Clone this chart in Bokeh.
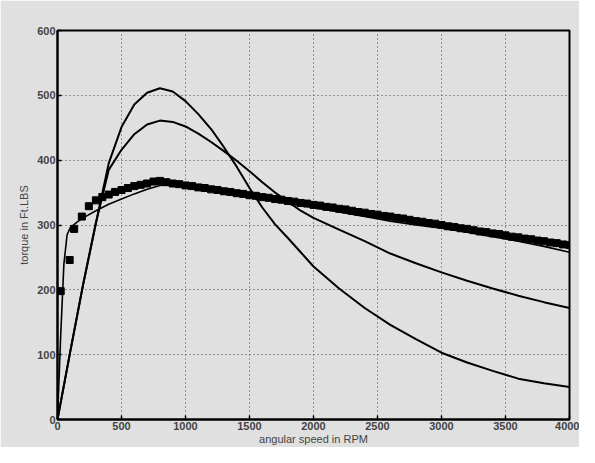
from bokeh.plotting import figure
from bokeh.models import FixedTicker
from bokeh.embed import file_html
from bokeh.resources import INLINE

# measured data (markers)
rpm_data = [25, 95, 130, 190, 245, 300, 350, 400, 450, 500, 550, 600, 650, 700, 750, 800, 850, 900, 950,
            1000, 1050, 1100, 1150, 1200, 1250, 1300, 1350, 1400, 1450, 1500, 1550, 1600, 1650, 1700,
            1750, 1800, 1850, 1900, 1950, 2000, 2050, 2100, 2150, 2200, 2250, 2300, 2350, 2400, 2450,
            2500, 2550, 2600, 2650, 2700, 2750, 2800, 2850, 2900, 2950, 3000, 3050, 3100, 3150, 3200,
            3250, 3300, 3350, 3400, 3450, 3500, 3550, 3600, 3650, 3700, 3750, 3800, 3850, 3900, 3950, 4000]
torque_data = [198, 246, 294, 313, 329, 338, 343, 347, 351, 354, 357, 360, 362, 364, 367, 368, 366, 364, 363,
               361, 360, 358, 357, 355, 354, 352, 351, 349, 348, 346, 345, 343, 342, 340,
               339, 337, 336, 334, 333, 331, 330, 328, 327, 325, 324, 322, 320, 319, 317,
               316, 314, 313, 311, 310, 308, 306, 305, 303, 302, 300, 298, 297, 295, 294,
               292, 290, 289, 287, 286, 284, 282, 281, 279, 278, 276, 275, 273, 272, 270, 269]

# fitted model curves
rpm_fit = [0, 25, 50, 75, 100, 150, 200, 300, 400, 500, 600, 700, 800, 900, 1000, 1200, 1400, 1600,
           1800, 2000, 2200, 2400, 2600, 2800, 3000, 3200, 3400, 3600, 3800, 4000]
torque_fit = [0, 130, 240, 285, 296, 304, 311, 322, 332, 340, 348, 355, 361, 363, 361, 355, 348, 341,
              334, 327, 320, 313, 306, 300, 295, 289, 282, 275, 267, 258]

rpm_model = [0, 100, 200, 300, 400, 500, 600, 700, 800, 900, 1000, 1100, 1200, 1300, 1400, 1500,
             1600, 1700, 1800, 1900, 2000, 2200, 2400, 2600, 2800, 3000, 3200, 3400, 3600, 3800, 4000]
torque_model_a = [0, 105, 208, 303, 395, 451, 486, 504, 511, 506, 491, 471, 448, 420, 390, 357,
                  327, 301, 280, 258, 236, 202, 172, 146, 124, 103, 88, 75, 63, 56, 50]
torque_model_b = [0, 105, 208, 303, 385, 416, 440, 455, 461, 459, 452, 441, 428, 414, 399, 383,
                  366, 350, 336, 322, 311, 293, 275, 256, 241, 227, 214, 202, 191, 181, 172]

x_ticks = [0, 500, 1000, 1500, 2000, 2500, 3000, 3500, 4000]
y_ticks = [0, 100, 200, 300, 400, 500, 600]

bg = "#e0e0e0"
p = figure(width=579, height=447, x_range=(0, 4000), y_range=(0, 600),
           output_backend="svg", toolbar_location=None,
           min_border_left=57, min_border_right=10, min_border_top=30, min_border_bottom=23)
p.background_fill_color = bg
p.border_fill_color = bg
p.outline_line_color = "black"
p.outline_line_width = 2

p.line(rpm_model, torque_model_a, line_color="black", line_width=2)
p.line(rpm_model, torque_model_b, line_color="black", line_width=2)
p.line(rpm_fit, torque_fit, line_color="black", line_width=1.6)
p.scatter(rpm_data, torque_data, marker="square", size=7, fill_color="black", line_color="black")

for ax in (p.xaxis, p.yaxis):
    ax.axis_line_width = 2
    ax.axis_line_color = "black"
    ax.major_tick_in = 4
    ax.major_tick_out = 0
    ax.minor_tick_line_color = None
    ax.major_tick_line_width = 1.5
    ax.major_label_text_font = "Liberation Sans"
    ax.major_label_text_font_style = "bold"
    ax.major_label_text_font_size = "11px"
    ax.major_label_standoff = 2
    ax.axis_label_text_font = "Liberation Sans"
    ax.axis_label_text_font_style = "normal"
    ax.axis_label_text_font_size = "11px"
    ax.axis_label_standoff = 0

p.xaxis.ticker = FixedTicker(ticks=x_ticks)
p.yaxis.ticker = FixedTicker(ticks=y_ticks)
p.xaxis.axis_label = "angular speed in RPM"
p.yaxis.axis_label = "torque in Ft.LBS"
p.yaxis.axis_label_standoff = 4

p.grid.grid_line_color = "#444444"
p.grid.grid_line_dash = "1 3"
p.grid.grid_line_width = 1
p.xgrid.ticker = FixedTicker(ticks=x_ticks)
p.ygrid.ticker = FixedTicker(ticks=y_ticks)

open("out.html", "w").write(file_html(p, INLINE))
